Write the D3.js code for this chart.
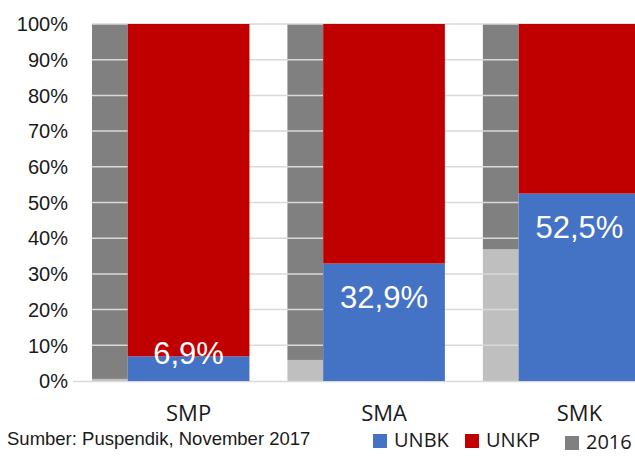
<!DOCTYPE html>
<html>
<head>
<meta charset="utf-8">
<script src="https://cdn.jsdelivr.net/npm/d3@7"></script>
<style>
  body { margin: 0; background: #fff; }
  svg { display: block; }
</style>
</head>
<body>
<svg id="chart" width="635" height="467"></svg>
<script>
// jenjang sekolah
var categories = ["SMP", "SMA", "SMK"];
// persentase 2017
var unbk2017 = [6.9, 32.9, 52.5];
var unkp2017 = [93.1, 67.1, 47.5];
// persentase 2016 (batang abu-abu)
var unbk2016 = [0.6, 5.9, 36.9];
var unkp2016 = [99.4, 94.1, 63.1];
var labels2017 = ["6,9%", "32,9%", "52,5%"];
var yTicks = [0, 10, 20, 30, 40, 50, 60, 70, 80, 90, 100];

var svg = d3.select("#chart");

var x = d3.scaleBand()
    .domain(categories)
    .range([92, 640.3])
    .paddingInner(0.1944)
    .paddingOuter(0);

var y = d3.scaleLinear()
    .domain([0, 100])
    .range([381, 24]);

var greyW = x.bandwidth() * 0.227;
var mainW = x.bandwidth() - greyW;

// 2016 bars sit behind the gridlines
var g2016 = svg.append("g");
g2016.selectAll("rect.lo")
    .data(categories)
    .enter().append("rect")
    .attr("x", function (d) { return x(d); })
    .attr("width", greyW)
    .attr("y", function (d, i) { return y(unbk2016[i]); })
    .attr("height", function (d, i) { return y(0) - y(unbk2016[i]); })
    .style("fill", "#bfbfbf");
g2016.selectAll("rect.hi")
    .data(categories)
    .enter().append("rect")
    .attr("x", function (d) { return x(d); })
    .attr("width", greyW)
    .attr("y", function (d, i) { return y(unbk2016[i] + unkp2016[i]); })
    .attr("height", function (d, i) { return y(unbk2016[i]) - y(unbk2016[i] + unkp2016[i]); })
    .style("fill", "#808080");

// gridlines
svg.append("g")
    .selectAll("line")
    .data(yTicks.slice(1))
    .enter().append("line")
    .attr("x1", 92)
    .attr("x2", 640)
    .attr("y1", function (d) { return y(d); })
    .attr("y2", function (d) { return y(d); })
    .attr("stroke", "#d9d9d9")
    .attr("stroke-width", 1.5);

svg.append("line")
    .attr("x1", 73)
    .attr("x2", 640)
    .attr("y1", y(0) + 0.5)
    .attr("y2", y(0) + 0.5)
    .attr("stroke", "#d9d9d9")
    .attr("stroke-width", 1.5);

// 2017 bars
var g2017 = svg.append("g");
g2017.selectAll("rect.unbk")
    .data(categories)
    .enter().append("rect")
    .attr("x", function (d) { return x(d) + greyW; })
    .attr("width", mainW)
    .attr("y", function (d, i) { return y(unbk2017[i]); })
    .attr("height", function (d, i) { return y(0) - y(unbk2017[i]); })
    .style("fill", "#4472c4");
g2017.selectAll("rect.unkp")
    .data(categories)
    .enter().append("rect")
    .attr("x", function (d) { return x(d) + greyW; })
    .attr("width", mainW)
    .attr("y", function (d, i) { return y(unbk2017[i] + unkp2017[i]); })
    .attr("height", function (d, i) { return y(unbk2017[i]) - y(unbk2017[i] + unkp2017[i]); })
    .style("fill", "#c00000");

// data labels
svg.append("g")
    .selectAll("text")
    .data(categories)
    .enter().append("text")
    .attr("x", function (d) { return x(d) + greyW + mainW / 2; })
    .attr("y", function (d, i) { return Math.min(y(unbk2017[i]) + 44, y(0) - 17); })
    .style("font-family", "'Liberation Sans', Arial, sans-serif")
    .style("font-size", "31px")
    .style("fill", "#fff")
    .style("text-anchor", "middle")
    .text(function (d, i) { return labels2017[i]; });

// y axis labels
svg.append("g")
    .selectAll("text")
    .data(yTicks)
    .enter().append("text")
    .attr("x", 68)
    .attr("y", function (d) { return y(d); })
    .attr("dy", "0.36em")
    .style("font-family", "'Liberation Sans', Arial, sans-serif")
    .style("font-size", "20px")
    .style("fill", "#1a1a1a")
    .style("text-anchor", "end")
    .text(function (d) { return d + "%"; });

// category labels
svg.append("g")
    .selectAll("text")
    .data(categories)
    .enter().append("text")
    .attr("x", function (d) { return x(d) + greyW + mainW / 2; })
    .attr("y", 421)
    .style("font-family", "'Open Sans', sans-serif")
    .style("font-size", "22px")
    .style("fill", "#1a1a1a")
    .style("text-anchor", "middle")
    .text(function (d) { return d; });

// source
svg.append("text")
    .attr("x", 7)
    .attr("y", 445)
    .style("font-family", "'Liberation Sans', Arial, sans-serif")
    .style("font-size", "18.5px")
    .style("fill", "#1a1a1a")
    .text("Sumber: Puspendik, November 2017");

// legend
var legendItems = [
    {name: "UNBK", color: "#4472c4", x: 373, y: 434},
    {name: "UNKP", color: "#c00000", x: 465, y: 434},
    {name: "2016", color: "#808080", x: 565, y: 436}
];
var leg = svg.append("g")
    .selectAll("g")
    .data(legendItems)
    .enter().append("g")
    .attr("transform", function (d) { return "translate(" + d.x + "," + d.y + ")"; });
leg.append("rect")
    .attr("width", 14)
    .attr("height", 14)
    .style("fill", function (d) { return d.color; });
leg.append("text")
    .attr("x", 21)
    .attr("y", 13)
    .style("font-family", "'Open Sans', sans-serif")
    .style("font-size", "20px")
    .style("fill", "#1a1a1a")
    .text(function (d) { return d.name; });
</script>
</body>
</html>
